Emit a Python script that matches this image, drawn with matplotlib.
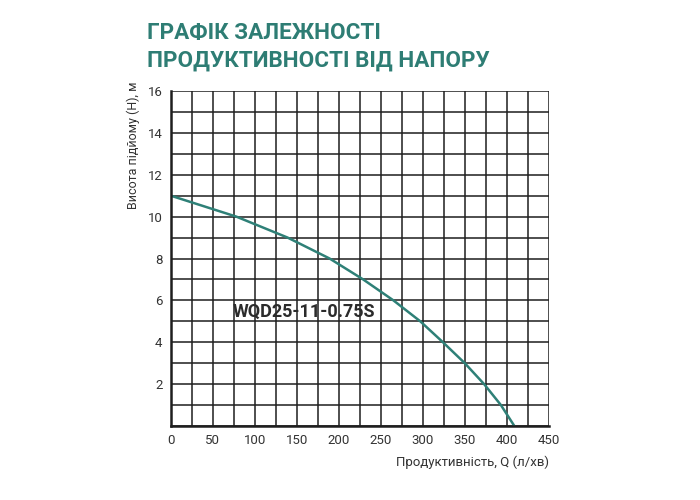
import matplotlib.pyplot as plt
import numpy as np

# curve
flow = [0, 78, 139, 189, 229, 265, 297, 324, 350, 373, 393, 409]
head = [11, 10, 9, 8, 7, 6, 5, 4, 3, 2, 1, 0]
x_ticks = [0, 50, 100, 150, 200, 250, 300, 350, 400, 450]
y_ticks = [2, 4, 6, 8, 10, 12, 14, 16]

plt.rcParams['font.family'] = ['Roboto', 'DejaVu Sans']

fig = plt.figure(figsize=(7, 5), dpi=100)
ax = fig.add_axes([0.244, 0.148, 0.540, 0.670])

ax.set_xlim(0, 450)
ax.set_ylim(0, 16)
ax.set_xticks(np.arange(0, 451, 25), minor=True)
ax.set_yticks(np.arange(0, 17, 1), minor=True)
ax.grid(True, which='both', color='#1e1e1e', lw=1.1)
ax.set_axisbelow(True)
ax.set_xticks(x_ticks)
ax.set_yticks(y_ticks)
ax.tick_params(which='both', length=0, labelsize=9.5, colors='#333333', pad=6)
for side in ['top', 'right']:
    ax.spines[side].set_visible(False)
for side in ['left', 'bottom']:
    ax.spines[side].set_linewidth(1.8)
    ax.spines[side].set_color('#1e1e1e')

ax.plot(flow, head, color='#2e8077', lw=1.8, solid_capstyle='round',
        solid_joinstyle='round')
ax.text(74, 5.45, 'WQD25-11-0.75S', fontsize=13, fontweight='bold',
        color='#2b2b2b', va='center')

fig.text(0.21, 0.955, 'ГРАФІК ЗАЛЕЖНОСТІ\nПРОДУКТИВНОСТІ ВІД НАПОРУ',
         fontsize=16.2, fontweight='bold', color='#2e7d74', va='top',
         linespacing=1.3)
fig.text(0.19, 0.71, 'Висота підйому (Н), м', rotation=90, fontsize=9,
         color='#333333', ha='center', va='center')
fig.text(0.784, 0.075, 'Продуктивність, Q (л/хв)', fontsize=9.5,
         color='#333333', ha='right', va='center')

fig.savefig('out.png', dpi=100)
